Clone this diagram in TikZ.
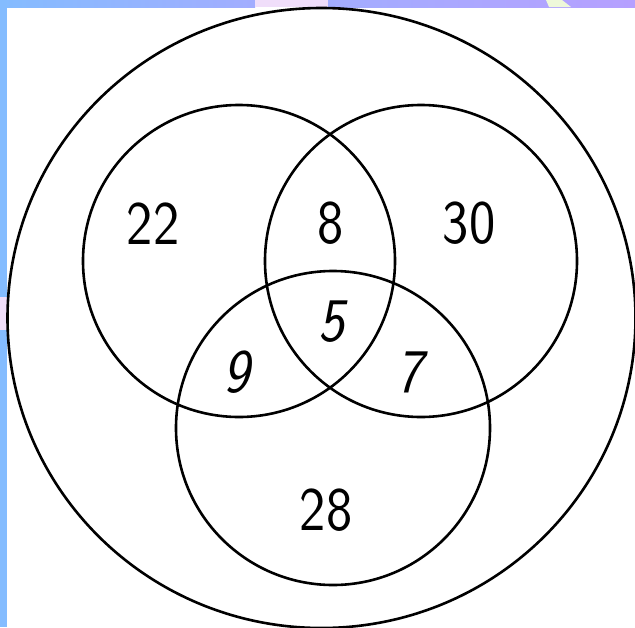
\documentclass[tikz,border=0pt]{standalone}
\usetikzlibrary{backgrounds}
\definecolor{stripblue}{HTML}{84BCFF}
\definecolor{stripmid}{HTML}{A2ADFF}
\definecolor{strippurple}{HTML}{B6A0FF}
\definecolor{strippink}{HTML}{F0DEFA}
\definecolor{stripgreen}{HTML}{EEF8DA}
\tikzset{
  ring/.style={draw=black, line width=2.6pt},
  num/.style={inner sep=0pt, font=\sffamily\fontsize{62}{62}\selectfont, xscale=0.9},
  numsl/.style={num, font=\sffamily\slshape\fontsize{62}{62}\selectfont}
}
\begin{document}
\begin{tikzpicture}[x=1pt,y=-1pt]
\useasboundingbox (0,0) rectangle (635,627);
\clip (0,0) rectangle (635,627);
% frame strips
\fill[white] (0,0) rectangle (635,627);
\shade[left color=stripblue, right color=stripmid] (0,0) rectangle (255,7);
\fill[strippink] (255,0) rectangle (328,7);
\shade[left color=stripmid, right color=strippurple] (328,0) rectangle (635,7);
\fill[stripgreen] (546,0) -- (562,0) -- (571,7) -- (549,7) -- cycle;
\fill[stripblue] (0,0) rectangle (7,627);
\fill[strippink] (0,297) rectangle (7,330);
% circles
\draw[ring] (321.5,318) ellipse[x radius=314pt, y radius=310pt];
\draw[ring] (239,261) circle[radius=156pt];
\draw[ring] (421,261) circle[radius=156pt];
\draw[ring] (333,428) circle[radius=157pt];
% numbers
\node[num]   (n22) at (153,224) {22};
\node[num]   (n8)  at (331,223) {8};
\node[num]   (n30) at (469,223) {30};
\node[numsl] (n5)  at (332,322) {5};
\node[numsl] (n9)  at (237,372) {9};
\node[numsl] (n7)  at (410,372) {7};
\node[num]   (n28) at (326,510) {28};
\end{tikzpicture}
\end{document}
